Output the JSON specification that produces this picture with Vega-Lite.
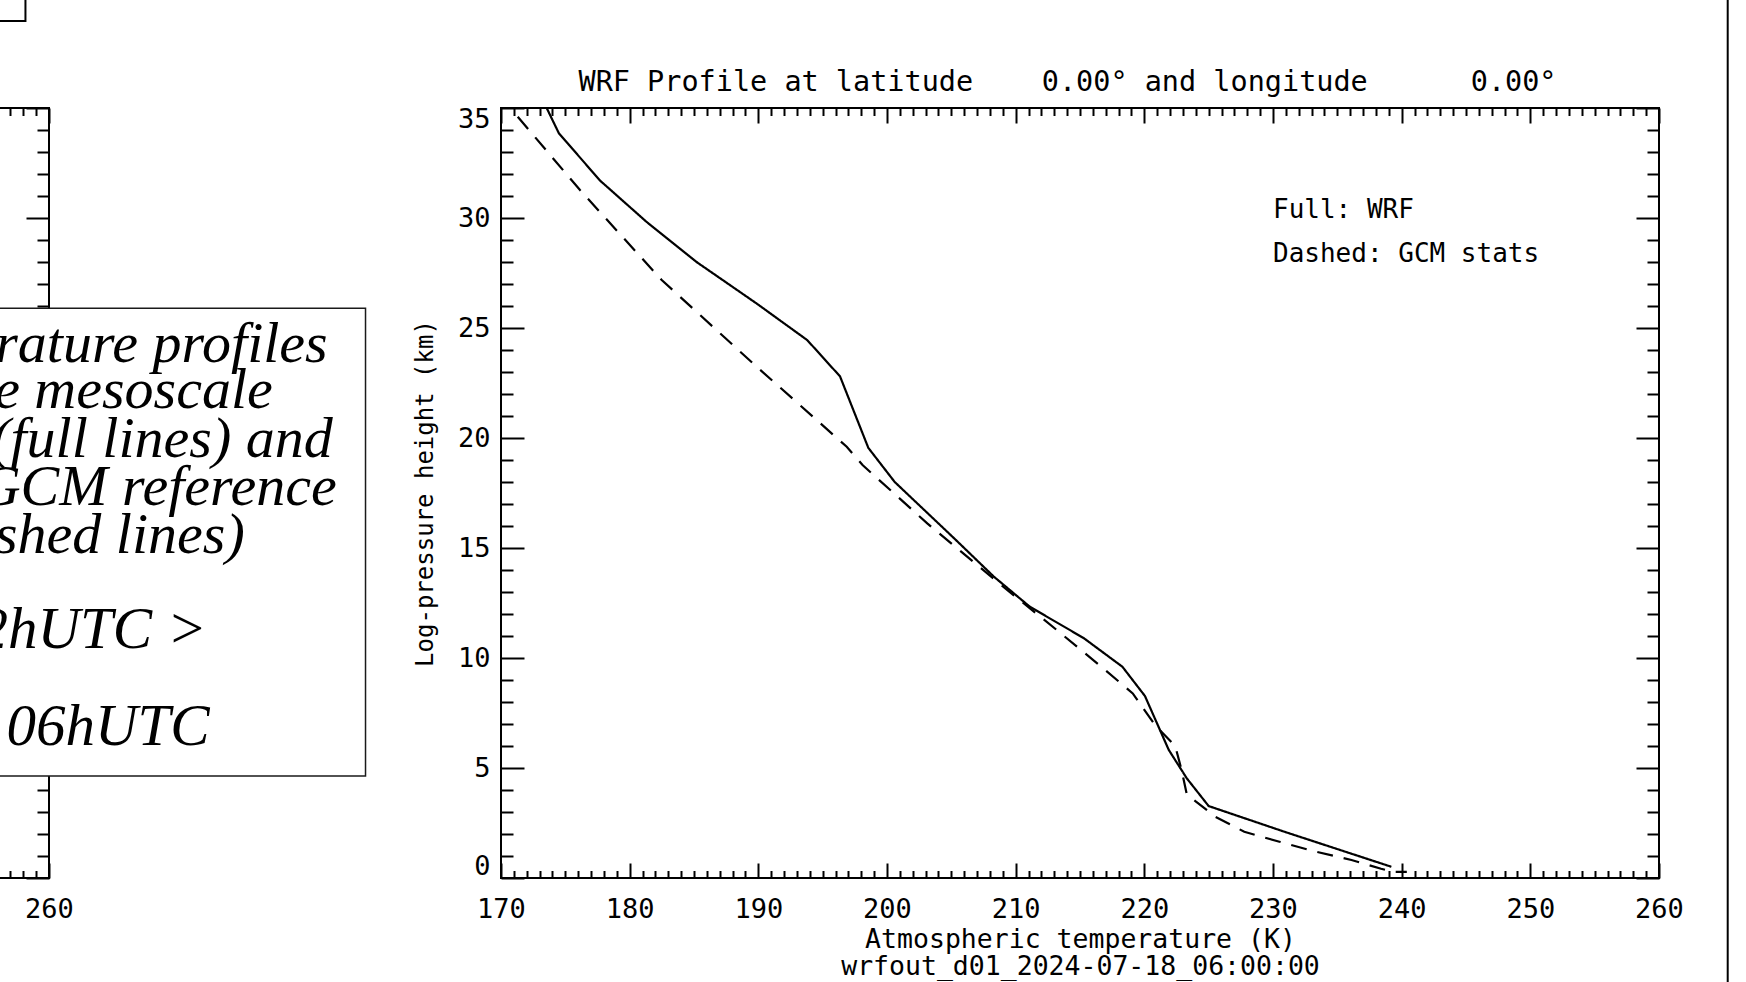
{
  "$schema": "https://vega.github.io/schema/vega-lite/v6.json",
  "background": "white",
  "autosize": {"type": "none"},
  "padding": {"left": -1109, "top": 108, "right": 2855, "bottom": 874},
  "bounds": "flush",
  "spacing": 452,
  "hconcat": [
    {
      "width": 1158,
      "height": 770,
      "layer": [
        {
          "data": {"values": [{"x0": 200, "x1": 284.6, "y0": 4.64, "y1": 25.9}]},
          "mark": {"type": "rect", "fill": "white", "stroke": "#1a1a1a", "strokeWidth": 1.5, "clip": false},
          "encoding": {
            "x": {"field": "x0", "type": "quantitative", "scale": {"domain": [170, 260], "nice": false, "zero": false},
              "axis": {"orient": "bottom", "values": [170,171,172,173,174,175,176,177,178,179,180,181,182,183,184,185,186,187,188,189,190,191,192,193,194,195,196,197,198,199,200,201,202,203,204,205,206,207,208,209,210,211,212,213,214,215,216,217,218,219,220,221,222,223,224,225,226,227,228,229,230,231,232,233,234,235,236,237,238,239,240,241,242,243,244,245,246,247,248,249,250,251,252,253,254,255,256,257,258,259,260],
                "labelExpr": "datum.value % 10 === 0 ? datum.label : ''",
                "tickSize": {"condition": {"test": "datum.value % 10 === 0", "value": -15}, "value": -7.5},
                "labelPadding": 33, "labelFlush": false, "title": null}},
            "x2": {"field": "x1"},
            "y": {"field": "y0", "type": "quantitative", "scale": {"domain": [0, 35], "nice": false, "zero": false},
              "axis": {"orient": "left", "values": [0,1,2,3,4,5,6,7,8,9,10,11,12,13,14,15,16,17,18,19,20,21,22,23,24,25,26,27,28,29,30,31,32,33,34,35],
                "labelExpr": "datum.value % 5 === 0 ? datum.label : ''",
                "tickSize": {"condition": {"test": "datum.value % 5 === 0", "value": -23}, "value": -12},
                "labelPadding": 34, "labelFlush": true, "labelFlushOffset": 2,
                "title": "Log-pressure height (km)", "titleFontSize": 24, "titlePadding": 20}},
            "y2": {"field": "y1"}
          }
        },
        {
          "data": {"values": [
            {"line": "rature profiles", "tx": 281.66, "ty": 23.47},
            {"line": "e mesoscale", "tx": 277.39, "ty": 21.36},
            {"line": "(full lines) and", "tx": 282.05, "ty": 19.15},
            {"line": "GCM reference", "tx": 282.36, "ty": 16.95},
            {"line": "shed lines)", "tx": 275.21, "ty": 14.77}
          ]},
          "mark": {"type": "text", "align": "right", "baseline": "alphabetic", "font": "Liberation Serif", "fontStyle": "italic", "fontSize": 58, "color": "black", "clip": false},
          "encoding": {
            "x": {"field": "tx", "type": "quantitative", "scale": {"domain": [170, 260], "nice": false, "zero": false},
              "axis": {"orient": "top", "values": [170,171,172,173,174,175,176,177,178,179,180,181,182,183,184,185,186,187,188,189,190,191,192,193,194,195,196,197,198,199,200,201,202,203,204,205,206,207,208,209,210,211,212,213,214,215,216,217,218,219,220,221,222,223,224,225,226,227,228,229,230,231,232,233,234,235,236,237,238,239,240,241,242,243,244,245,246,247,248,249,250,251,252,253,254,255,256,257,258,259,260],
                "labels": false,
                "tickSize": {"condition": {"test": "datum.value % 10 === 0", "value": -15}, "value": -7.5},
                "title": null}},
            "y": {"field": "ty", "type": "quantitative", "scale": {"domain": [0, 35], "nice": false, "zero": false},
              "axis": {"orient": "right", "values": [0,1,2,3,4,5,6,7,8,9,10,11,12,13,14,15,16,17,18,19,20,21,22,23,24,25,26,27,28,29,30,31,32,33,34,35],
                "labels": false,
                "tickSize": {"condition": {"test": "datum.value % 5 === 0", "value": -23}, "value": -12},
                "title": null}},
            "text": {"field": "line"}
          }
        },
        {
          "data": {"values": [
            {"line": "2hUTC >", "tx": 272.26, "ty": 10.45},
            {"line": "06hUTC", "tx": 272.49, "ty": 6.05}
          ]},
          "mark": {"type": "text", "align": "right", "baseline": "alphabetic", "font": "Liberation Serif", "fontStyle": "italic", "fontSize": 59, "color": "black", "clip": false},
          "encoding": {
            "x": {"field": "tx", "type": "quantitative", "scale": {"domain": [170, 260], "nice": false, "zero": false}, "axis": null},
            "y": {"field": "ty", "type": "quantitative", "scale": {"domain": [0, 35], "nice": false, "zero": false}, "axis": null},
            "text": {"field": "line"}
          }
        },
        {
          "data": {"values": [{"x0": 250, "x1": 258.17, "y0": 38.95, "y1": 45}]},
          "mark": {"type": "rect", "fill": "white", "stroke": "black", "strokeWidth": 2, "clip": false},
          "encoding": {
            "x": {"field": "x0", "type": "quantitative", "scale": {"domain": [170, 260], "nice": false, "zero": false}, "axis": null},
            "x2": {"field": "x1"},
            "y": {"field": "y0", "type": "quantitative", "scale": {"domain": [0, 35], "nice": false, "zero": false}, "axis": null},
            "y2": {"field": "y1"}
          }
        }
      ],
      "resolve": {"axis": {"x": "independent", "y": "independent"}}
    },
    {
      "width": 1158,
      "height": 770,
      "layer": [
        {
          "data": {"values": [
            {"series": "WRF", "i": 1, "T": 173.55, "h": 35.0},
            {"series": "WRF", "i": 2, "T": 174.5, "h": 33.85},
            {"series": "WRF", "i": 3, "T": 177.7, "h": 31.7},
            {"series": "WRF", "i": 4, "T": 181.3, "h": 29.83},
            {"series": "WRF", "i": 5, "T": 185.2, "h": 28.0},
            {"series": "WRF", "i": 6, "T": 189.9, "h": 26.1},
            {"series": "WRF", "i": 7, "T": 193.8, "h": 24.45},
            {"series": "WRF", "i": 8, "T": 196.35, "h": 22.8},
            {"series": "WRF", "i": 9, "T": 198.55, "h": 19.55},
            {"series": "WRF", "i": 10, "T": 200.6, "h": 18.0},
            {"series": "WRF", "i": 11, "T": 205.2, "h": 15.45},
            {"series": "WRF", "i": 12, "T": 208.3, "h": 13.7},
            {"series": "WRF", "i": 13, "T": 211.1, "h": 12.33},
            {"series": "WRF", "i": 14, "T": 215.3, "h": 10.9},
            {"series": "WRF", "i": 15, "T": 218.3, "h": 9.6},
            {"series": "WRF", "i": 16, "T": 220.05, "h": 8.27},
            {"series": "WRF", "i": 17, "T": 221.9, "h": 5.82},
            {"series": "WRF", "i": 18, "T": 223.3, "h": 4.53},
            {"series": "WRF", "i": 19, "T": 225.0, "h": 3.27},
            {"series": "WRF", "i": 20, "T": 230.9, "h": 2.1},
            {"series": "WRF", "i": 21, "T": 239.2, "h": 0.51},
            {"series": "GCM stats", "i": 1, "T": 171.3, "h": 34.6},
            {"series": "GCM stats", "i": 2, "T": 176.14, "h": 31.27},
            {"series": "GCM stats", "i": 3, "T": 182.49, "h": 27.18},
            {"series": "GCM stats", "i": 4, "T": 189.87, "h": 23.24},
            {"series": "GCM stats", "i": 5, "T": 193.07, "h": 21.58},
            {"series": "GCM stats", "i": 6, "T": 196.87, "h": 19.6},
            {"series": "GCM stats", "i": 7, "T": 198.1, "h": 18.77},
            {"series": "GCM stats", "i": 8, "T": 203.13, "h": 16.12},
            {"series": "GCM stats", "i": 9, "T": 209.03, "h": 13.24},
            {"series": "GCM stats", "i": 10, "T": 213.2, "h": 11.27},
            {"series": "GCM stats", "i": 11, "T": 216.66, "h": 9.6},
            {"series": "GCM stats", "i": 12, "T": 219.1, "h": 8.39},
            {"series": "GCM stats", "i": 13, "T": 220.83, "h": 6.95},
            {"series": "GCM stats", "i": 14, "T": 222.4, "h": 6.0},
            {"series": "GCM stats", "i": 15, "T": 222.9, "h": 4.9},
            {"series": "GCM stats", "i": 16, "T": 223.3, "h": 3.8},
            {"series": "GCM stats", "i": 17, "T": 225.5, "h": 2.79},
            {"series": "GCM stats", "i": 18, "T": 227.77, "h": 2.1},
            {"series": "GCM stats", "i": 19, "T": 230.5, "h": 1.65},
            {"series": "GCM stats", "i": 20, "T": 233.3, "h": 1.2},
            {"series": "GCM stats", "i": 21, "T": 236.1, "h": 0.82},
            {"series": "GCM stats", "i": 22, "T": 238.4, "h": 0.42},
            {"series": "GCM stats", "i": 23, "T": 239.3, "h": 0.28},
            {"series": "GCM stats", "i": 24, "T": 240.4, "h": 0.28}
          ]},
          "mark": {"type": "line", "color": "black", "strokeWidth": 2.2, "clip": true},
          "encoding": {
            "x": {"field": "T", "type": "quantitative", "scale": {"domain": [170, 260], "nice": false, "zero": false},
              "axis": {"orient": "bottom", "values": [170,171,172,173,174,175,176,177,178,179,180,181,182,183,184,185,186,187,188,189,190,191,192,193,194,195,196,197,198,199,200,201,202,203,204,205,206,207,208,209,210,211,212,213,214,215,216,217,218,219,220,221,222,223,224,225,226,227,228,229,230,231,232,233,234,235,236,237,238,239,240,241,242,243,244,245,246,247,248,249,250,251,252,253,254,255,256,257,258,259,260],
                "labelExpr": "datum.value % 10 === 0 ? datum.label : ''",
                "tickSize": {"condition": {"test": "datum.value % 10 === 0", "value": -15}, "value": -7.5},
                "labelPadding": 33, "labelFlush": false,
                "title": ["Atmospheric temperature (K)", "wrfout_d01_2024-07-18_06:00:00"],
                "titleFontSize": 26.5, "titleLineHeight": 27, "titlePadding": -3}},
            "y": {"field": "h", "type": "quantitative", "scale": {"domain": [0, 35], "nice": false, "zero": false},
              "axis": {"orient": "left", "values": [0,1,2,3,4,5,6,7,8,9,10,11,12,13,14,15,16,17,18,19,20,21,22,23,24,25,26,27,28,29,30,31,32,33,34,35],
                "labelExpr": "datum.value % 5 === 0 ? datum.label : ''",
                "tickSize": {"condition": {"test": "datum.value % 5 === 0", "value": -23}, "value": -12},
                "labelPadding": 34, "labelFlush": true, "labelFlushOffset": 2,
                "title": "Log-pressure height (km)", "titleFontSize": 24, "titlePadding": 20}},
            "detail": {"field": "series"},
            "order": {"field": "i", "type": "quantitative"},
            "strokeDash": {"field": "series", "type": "nominal", "scale": {"domain": ["WRF", "GCM stats"], "range": [[1, 0], [16, 11]]}, "legend": null}
          }
        },
        {
          "data": {"values": [
            {"label": "Full: WRF", "T": 230, "h": 30},
            {"label": "Dashed: GCM stats", "T": 230, "h": 28}
          ]},
          "mark": {"type": "text", "align": "left", "baseline": "alphabetic", "font": "DejaVu Sans Mono", "fontSize": 26, "color": "black"},
          "encoding": {
            "x": {"field": "T", "type": "quantitative", "scale": {"domain": [170, 260], "nice": false, "zero": false},
              "axis": {"orient": "top", "values": [170,171,172,173,174,175,176,177,178,179,180,181,182,183,184,185,186,187,188,189,190,191,192,193,194,195,196,197,198,199,200,201,202,203,204,205,206,207,208,209,210,211,212,213,214,215,216,217,218,219,220,221,222,223,224,225,226,227,228,229,230,231,232,233,234,235,236,237,238,239,240,241,242,243,244,245,246,247,248,249,250,251,252,253,254,255,256,257,258,259,260],
                "labels": false,
                "tickSize": {"condition": {"test": "datum.value % 10 === 0", "value": -15}, "value": -7.5},
                "title": "WRF Profile at latitude\u00a0\u00a0\u00a0\u00a00.00° and longitude\u00a0\u00a0\u00a0\u00a0\u00a0\u00a00.00°",
                "titleFontSize": 28.5, "titlePadding": 11, "titleX": 566}},
            "y": {"field": "h", "type": "quantitative", "scale": {"domain": [0, 35], "nice": false, "zero": false},
              "axis": {"orient": "right", "values": [0,1,2,3,4,5,6,7,8,9,10,11,12,13,14,15,16,17,18,19,20,21,22,23,24,25,26,27,28,29,30,31,32,33,34,35],
                "labels": false,
                "tickSize": {"condition": {"test": "datum.value % 5 === 0", "value": -23}, "value": -12},
                "title": null}},
            "text": {"field": "label"}
          }
        },
        {
          "data": {"values": [{"T": 265.34, "h0": -10, "h1": 45}]},
          "mark": {"type": "rule", "color": "black", "strokeWidth": 2, "clip": false},
          "encoding": {
            "x": {"field": "T", "type": "quantitative", "scale": {"domain": [170, 260], "nice": false, "zero": false}, "axis": null},
            "y": {"field": "h0", "type": "quantitative", "scale": {"domain": [0, 35], "nice": false, "zero": false}, "axis": null},
            "y2": {"field": "h1"}
          }
        }
      ],
      "resolve": {"axis": {"x": "independent", "y": "independent"}}
    }
  ],
  "config": {
    "view": {"stroke": "black", "strokeWidth": 2},
    "font": "DejaVu Sans Mono",
    "axis": {
      "domain": false,
      "grid": false,
      "labelFont": "DejaVu Sans Mono",
      "labelFontSize": 27,
      "labelColor": "black",
      "labelOverlap": false,
      "labelBound": false,
      "tickColor": "black",
      "tickWidth": 2,
      "titleFont": "DejaVu Sans Mono",
      "titleFontWeight": "normal",
      "titleColor": "black"
    }
  }
}
